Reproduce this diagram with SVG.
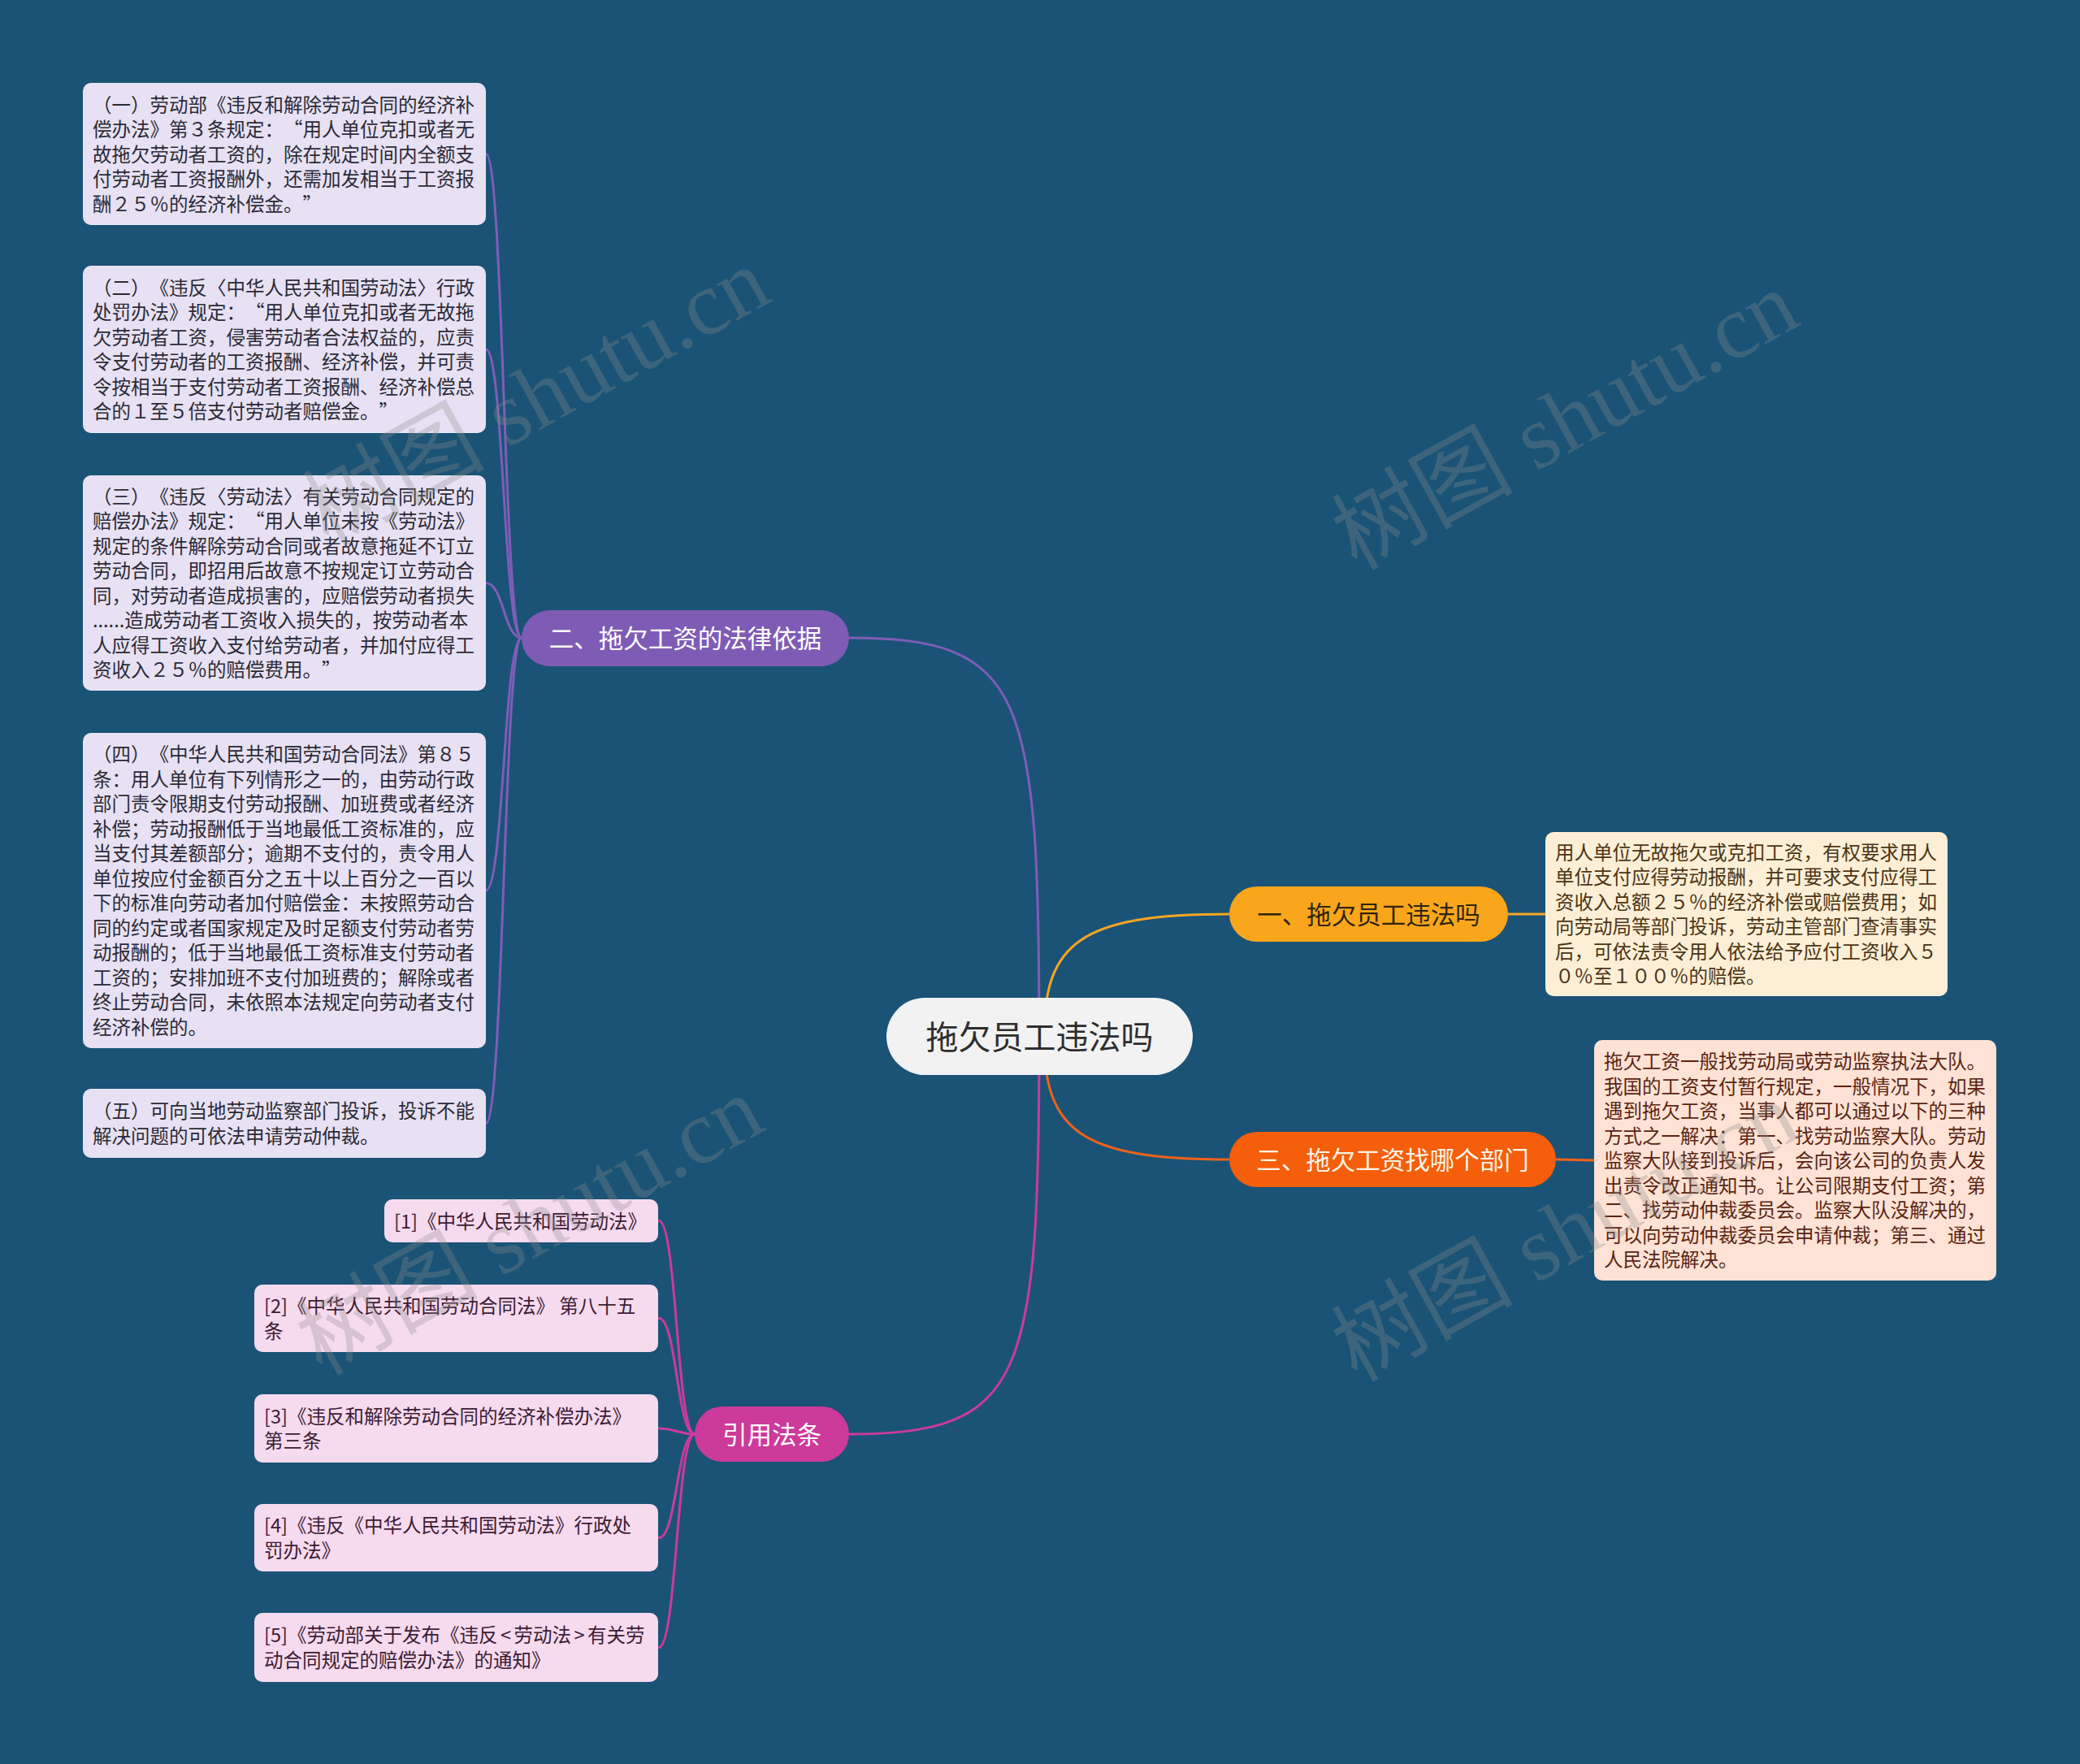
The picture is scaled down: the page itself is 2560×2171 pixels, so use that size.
<svg xmlns="http://www.w3.org/2000/svg" width="2560" height="2171" viewBox="0 0 2560 2171">
<style>
text{font-family:"Noto Sans CJK SC","Noto Sans",sans-serif;text-spacing-trim:space-all}
.leaf{font-size:23.5px}
.lav{fill:#e7e1f3}
.lavt{fill:#2c2a36}
.pink{fill:#f6daee}
.pinkt{fill:#3c1c34}
.cream{fill:#fdefd6}
.creamt{fill:#4c3414}
.peach{fill:#fde2d5}
.peacht{fill:#5a2412}
.br{font-size:30.5px;text-anchor:middle}
.c{fill:none;stroke-width:3;stroke-linecap:round}
.wm{font-family:"Liberation Serif","Noto Sans CJK SC",serif;font-size:112px;fill:#8a8a8a;fill-opacity:0.3;text-anchor:middle}
</style>
<rect x="0" y="0" width="2560" height="2171" fill="#1a5376"/>
<g id="connectors">
<path class="c" stroke="#7f5db8" d="M1279 1276 C1279 850 1260 785 1045 785"/>
<path class="c" stroke="#f5a623" d="M1285 1276 C1285 1160 1330 1125 1513 1125"/>
<path class="c" stroke="#f0621a" d="M1285 1276 C1285 1392 1330 1427 1513 1427"/>
<path class="c" stroke="#cc3b9a" d="M1279 1276 C1279 1700 1260 1765 1045 1765"/>
<path class="c" stroke="#f5a623" d="M1856 1125 L1902 1125"/>
<path class="c" stroke="#f0621a" d="M1915 1427 L1962 1428"/>
<path class="c" stroke="#7f5db8" d="M642 785 C620 785 620 189.5 598 189.5"/>
<path class="c" stroke="#7f5db8" d="M642 785 C620 785 620 430 598 430"/>
<path class="c" stroke="#7f5db8" d="M642 785 C620 785 620 717.5 598 717.5"/>
<path class="c" stroke="#7f5db8" d="M642 785 C620 785 620 1096 598 1096"/>
<path class="c" stroke="#7f5db8" d="M642 785 C620 785 620 1382.5 598 1382.5"/>
<path class="c" stroke="#cc3b9a" d="M855 1765 C833 1765 833 1502.5 811 1502.5"/>
<path class="c" stroke="#cc3b9a" d="M855 1765 C833 1765 833 1622.5 811 1622.5"/>
<path class="c" stroke="#cc3b9a" d="M855 1765 C833 1765 833 1758 811 1758"/>
<path class="c" stroke="#cc3b9a" d="M855 1765 C833 1765 833 1892.5 811 1892.5"/>
<path class="c" stroke="#cc3b9a" d="M855 1765 C833 1765 833 2027.5 811 2027.5"/>
</g>
<g id="root">
<rect x="1091" y="1228" width="377" height="95" rx="47.5" fill="#f2f2f2"/>
<text x="1279.5" y="1290.5" font-size="40" text-anchor="middle" fill="#2e2e2e">拖欠员工违法吗</text>
</g>
<g id="branch-law">
<rect x="642" y="751" width="403" height="69" rx="34.5" fill="#7e5cb5"/>
<text class="br" x="843.5" y="797" fill="#ffffff">二、拖欠工资的法律依据</text>
</g>
<g id="branch-illegal">
<rect x="1513" y="1091" width="343" height="68" rx="34" fill="#f9a61c"/>
<text class="br" x="1684.5" y="1136.5" fill="#2f240f">一、拖欠员工违法吗</text>
</g>
<g id="branch-dept">
<rect x="1513" y="1393" width="402" height="68" rx="34" fill="#f55e0b"/>
<text class="br" x="1714" y="1438.5" fill="#fff4e6">三、拖欠工资找哪个部门</text>
</g>
<g id="branch-refs">
<rect x="855" y="1731" width="190" height="68" rx="34" fill="#cc3a9a"/>
<text class="br" x="950" y="1776.5" fill="#ffffff">引用法条</text>
</g>
<g id="law-1">
<rect class="lav" x="102" y="102" width="496" height="175" rx="10"/>
<text class="leaf lavt" x="114" y="137.5"><tspan x="114">（一）劳动部《违反和解除劳动合同的经济补</tspan><tspan x="114" dy="30.5">偿办法》第３条规定：“用人单位克扣或者无</tspan><tspan x="114" dy="30.5">故拖欠劳动者工资的，除在规定时间内全额支</tspan><tspan x="114" dy="30.5">付劳动者工资报酬外，还需加发相当于工资报</tspan><tspan x="114" dy="30.5">酬２５％的经济补偿金。”</tspan></text>
</g>
<g id="law-2">
<rect class="lav" x="102" y="327" width="496" height="206" rx="10"/>
<text class="leaf lavt" x="114" y="362.75"><tspan x="114">（二）《违反〈中华人民共和国劳动法〉行政</tspan><tspan x="114" dy="30.5">处罚办法》规定：“用人单位克扣或者无故拖</tspan><tspan x="114" dy="30.5">欠劳动者工资，侵害劳动者合法权益的，应责</tspan><tspan x="114" dy="30.5">令支付劳动者的工资报酬、经济补偿，并可责</tspan><tspan x="114" dy="30.5">令按相当于支付劳动者工资报酬、经济补偿总</tspan><tspan x="114" dy="30.5">合的１至５倍支付劳动者赔偿金。”</tspan></text>
</g>
<g id="law-3">
<rect class="lav" x="102" y="585" width="496" height="265" rx="10"/>
<text class="leaf lavt" x="114" y="619.75"><tspan x="114">（三）《违反〈劳动法〉有关劳动合同规定的</tspan><tspan x="114" dy="30.5">赔偿办法》规定：“用人单位未按《劳动法》</tspan><tspan x="114" dy="30.5">规定的条件解除劳动合同或者故意拖延不订立</tspan><tspan x="114" dy="30.5">劳动合同，即招用后故意不按规定订立劳动合</tspan><tspan x="114" dy="30.5">同，对劳动者造成损害的，应赔偿劳动者损失</tspan><tspan x="114" dy="30.5">......造成劳动者工资收入损失的，按劳动者本</tspan><tspan x="114" dy="30.5">人应得工资收入支付给劳动者，并加付应得工</tspan><tspan x="114" dy="30.5">资收入２５％的赔偿费用。”</tspan></text>
</g>
<g id="law-4">
<rect class="lav" x="102" y="902" width="496" height="388" rx="10"/>
<text class="leaf lavt" x="114" y="937.25"><tspan x="114">（四）《中华人民共和国劳动合同法》第８５</tspan><tspan x="114" dy="30.5">条：用人单位有下列情形之一的，由劳动行政</tspan><tspan x="114" dy="30.5">部门责令限期支付劳动报酬、加班费或者经济</tspan><tspan x="114" dy="30.5">补偿；劳动报酬低于当地最低工资标准的，应</tspan><tspan x="114" dy="30.5">当支付其差额部分；逾期不支付的，责令用人</tspan><tspan x="114" dy="30.5">单位按应付金额百分之五十以上百分之一百以</tspan><tspan x="114" dy="30.5">下的标准向劳动者加付赔偿金：未按照劳动合</tspan><tspan x="114" dy="30.5">同的约定或者国家规定及时足额支付劳动者劳</tspan><tspan x="114" dy="30.5">动报酬的；低于当地最低工资标准支付劳动者</tspan><tspan x="114" dy="30.5">工资的；安排加班不支付加班费的；解除或者</tspan><tspan x="114" dy="30.5">终止劳动合同，未依照本法规定向劳动者支付</tspan><tspan x="114" dy="30.5">经济补偿的。</tspan></text>
</g>
<g id="law-5">
<rect class="lav" x="102" y="1340" width="496" height="85" rx="10"/>
<text class="leaf lavt" x="114" y="1376.25"><tspan x="114">（五）可向当地劳动监察部门投诉，投诉不能</tspan><tspan x="114" dy="30.5">解决问题的可依法申请劳动仲裁。</tspan></text>
</g>
<g id="illegal-detail">
<rect class="cream" x="1902" y="1024" width="495" height="202" rx="10"/>
<text class="leaf creamt" x="1914" y="1057.75"><tspan x="1914">用人单位无故拖欠或克扣工资，有权要求用人</tspan><tspan x="1914" dy="30.5">单位支付应得劳动报酬，并可要求支付应得工</tspan><tspan x="1914" dy="30.5">资收入总额２５％的经济补偿或赔偿费用；如</tspan><tspan x="1914" dy="30.5">向劳动局等部门投诉，劳动主管部门查清事实</tspan><tspan x="1914" dy="30.5">后，可依法责令用人依法给予应付工资收入５</tspan><tspan x="1914" dy="30.5">０％至１００％的赔偿。</tspan></text>
</g>
<g id="dept-detail">
<rect class="peach" x="1962" y="1280" width="495" height="296" rx="10"/>
<text class="leaf peacht" x="1974" y="1315"><tspan x="1974">拖欠工资一般找劳动局或劳动监察执法大队。</tspan><tspan x="1974" dy="30.5">我国的工资支付暂行规定，一般情况下，如果</tspan><tspan x="1974" dy="30.5">遇到拖欠工资，当事人都可以通过以下的三种</tspan><tspan x="1974" dy="30.5">方式之一解决：第一、找劳动监察大队。劳动</tspan><tspan x="1974" dy="30.5">监察大队接到投诉后，会向该公司的负责人发</tspan><tspan x="1974" dy="30.5">出责令改正通知书。让公司限期支付工资；第</tspan><tspan x="1974" dy="30.5">二、找劳动仲裁委员会。监察大队没解决的，</tspan><tspan x="1974" dy="30.5">可以向劳动仲裁委员会申请仲裁；第三、通过</tspan><tspan x="1974" dy="30.5">人民法院解决。</tspan></text>
</g>
<g id="ref-1">
<rect class="pink" x="473" y="1476" width="337" height="53" rx="10"/>
<text class="leaf pinkt" x="485" y="1511.5">[1]《中华人民共和国劳动法》</text>
</g>
<g id="ref-2">
<rect class="pink" x="313" y="1581" width="497" height="83" rx="10"/>
<text class="leaf pinkt" x="325" y="1616.25"><tspan x="325">[2]《中华人民共和国劳动合同法》 第八十五</tspan><tspan x="325" dy="30.5">条</tspan></text>
</g>
<g id="ref-3">
<rect class="pink" x="313" y="1716" width="497" height="84" rx="10"/>
<text class="leaf pinkt" x="325" y="1751.75"><tspan x="325">[3]《违反和解除劳动合同的经济补偿办法》</tspan><tspan x="325" dy="30.5">第三条</tspan></text>
</g>
<g id="ref-4">
<rect class="pink" x="313" y="1851" width="497" height="83" rx="10"/>
<text class="leaf pinkt" x="325" y="1886.25"><tspan x="325">[4]《违反《中华人民共和国劳动法》行政处</tspan><tspan x="325" dy="30.5">罚办法》</tspan></text>
</g>
<g id="ref-5">
<rect class="pink" x="313" y="1985" width="497" height="85" rx="10"/>
<text class="leaf pinkt" x="325" y="2021.25"><tspan x="325">[5]《劳动部关于发布《违反<tspan dx="3.5">&lt;</tspan><tspan dx="3.5">劳动法</tspan><tspan dx="3.5">&gt;</tspan><tspan dx="3.5">有关劳</tspan></tspan><tspan x="325" dy="30.5">动合同规定的赔偿办法》的通知》</tspan></text>
</g>
<g id="watermarks">
<text class="wm" transform="translate(661 490) rotate(-29)" x="0" y="36">树图 shutu.cn</text>
<text class="wm" transform="translate(1927 519) rotate(-29)" x="0" y="36">树图 shutu.cn</text>
<text class="wm" transform="translate(653 1510) rotate(-29)" x="0" y="36">树图 shutu.cn</text>
<text class="wm" transform="translate(1927 1518) rotate(-29)" x="0" y="36">树图 shutu.cn</text>
</g>
</svg>
